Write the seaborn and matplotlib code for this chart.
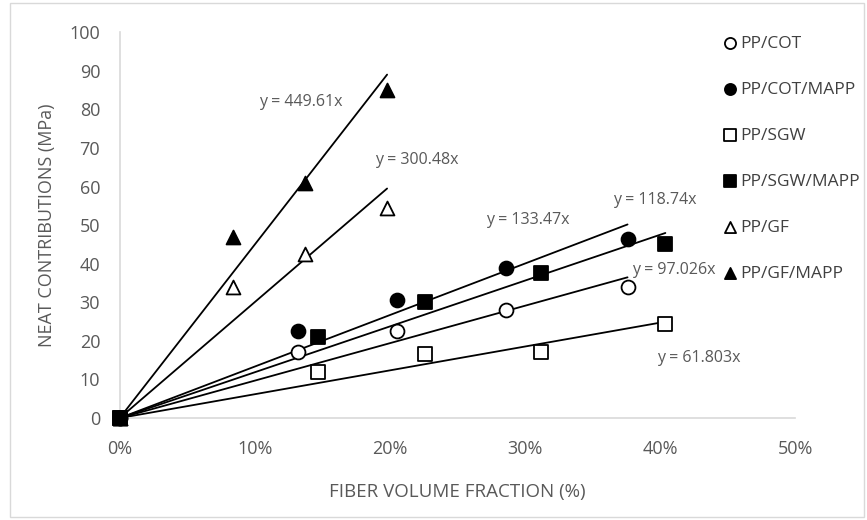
import matplotlib
matplotlib.use('Agg')
import matplotlib.pyplot as plt
import seaborn as sns
import pandas as pd
from matplotlib.ticker import PercentFormatter

sns.set_style('white')
plt.rcParams['font.family'] = ['Open Sans', 'DejaVu Sans']

# data (fiber volume fraction as fraction, neat contributions in MPa)
series = ['PP/COT', 'PP/COT/MAPP', 'PP/SGW', 'PP/SGW/MAPP', 'PP/GF', 'PP/GF/MAPP']
cot_x = [0, 0.132, 0.205, 0.286, 0.376]
cot_y = [0, 17, 22.5, 28, 34]
cot_mapp_y = [0, 22.5, 30.5, 39, 46.5]
sgw_x = [0, 0.147, 0.226, 0.312, 0.404]
sgw_y = [0, 12, 16.5, 17, 24.5]
sgw_mapp_y = [0, 21, 30, 37.5, 45]
gf_x = [0, 0.084, 0.137, 0.198]
gf_y = [0, 34, 42.5, 54.5]
gf_mapp_y = [0, 47, 61, 85]

# trendline slopes and label positions
slopes = [97.026, 133.47, 61.803, 118.74, 300.48, 449.61]
eq_pos = [(0.41, 38.3), (0.302, 51.3), (0.429, 15.5), (0.396, 56.5), (0.22, 66.8), (0.134, 81.9)]

xs = [cot_x, cot_x, sgw_x, sgw_x, gf_x, gf_x]
ys = [cot_y, cot_mapp_y, sgw_y, sgw_mapp_y, gf_y, gf_mapp_y]

rows = []
for name, x, y in zip(series, xs, ys):
    for a, b in zip(x, y):
        rows.append({'frac': a, 'mpa': b, 'series': name})
df = pd.DataFrame(rows)

fig = plt.figure(figsize=(8.67, 5.2), dpi=100)
ax = fig.add_axes([0.138, 0.196, 0.779, 0.742])

# trendlines
for name, x, s in zip(series, xs, slopes):
    lx = [0, max(x)]
    ax.plot(lx, [s * v for v in lx], color='black', lw=1.3, zorder=2)

styles = {
    'PP/COT': dict(marker='o', facecolor='white'),
    'PP/COT/MAPP': dict(marker='o', facecolor='black'),
    'PP/SGW': dict(marker='s', facecolor='white'),
    'PP/SGW/MAPP': dict(marker='s', facecolor='black'),
    'PP/GF': dict(marker='^', facecolor='white'),
    'PP/GF/MAPP': dict(marker='^', facecolor='black'),
}
order = ['PP/COT', 'PP/COT/MAPP', 'PP/SGW', 'PP/GF', 'PP/GF/MAPP', 'PP/SGW/MAPP']
for name in order:
    st = styles[name]
    sub = df[df['series'] == name]
    sns.scatterplot(data=sub, x='frac', y='mpa', ax=ax, marker=st['marker'],
                    color=st['facecolor'], edgecolor='black', linewidth=1.3,
                    s=100, zorder=5 if name == 'PP/SGW/MAPP' else 4, clip_on=False,
                    label=name)

for (px, py), s in zip(eq_pos, slopes):
    ax.text(px, py, f'y = {s}x', color='#595959', fontsize=11.5, ha='center', va='center')

ax.set_xlim(0, 0.5)
ax.set_ylim(0, 100)
ax.set_xticks([0, 0.1, 0.2, 0.3, 0.4, 0.5])
ax.set_yticks(range(0, 101, 10))
ax.xaxis.set_major_formatter(PercentFormatter(1.0, decimals=0))
ax.tick_params(axis='both', labelsize=13, colors='#595959', length=0)
ax.tick_params(axis='x', pad=16)
ax.tick_params(axis='y', pad=14)
ax.set_xlabel('FIBER VOLUME FRACTION (%)', fontsize=13.5, color='#595959', labelpad=18)
ax.set_ylabel('NEAT CONTRIBUTIONS (MPa)', fontsize=13, color='#595959', labelpad=10)
for side in ['top', 'right']:
    ax.spines[side].set_visible(False)
for side in ['left', 'bottom']:
    ax.spines[side].set_color('#d9d9d9')
    ax.spines[side].set_linewidth(1.2)

handles, labels = ax.get_legend_handles_labels()
hmap = dict(zip(labels, handles))
ax.get_legend().remove()
leg = fig.legend([hmap[n] for n in series], series, loc='upper left',
                 bbox_to_anchor=(0.812, 0.962), frameon=False, fontsize=12.5,
                 labelspacing=1.72, handletextpad=0.0, handlelength=1.2,
                 markerscale=0.8, labelcolor='#404040')

fig.patches.append(plt.Rectangle((0.012, 0.005), 0.985, 0.99, transform=fig.transFigure,
                                 fill=False, edgecolor='#d9d9d9', lw=1))

fig.savefig('out.png', dpi=100)
